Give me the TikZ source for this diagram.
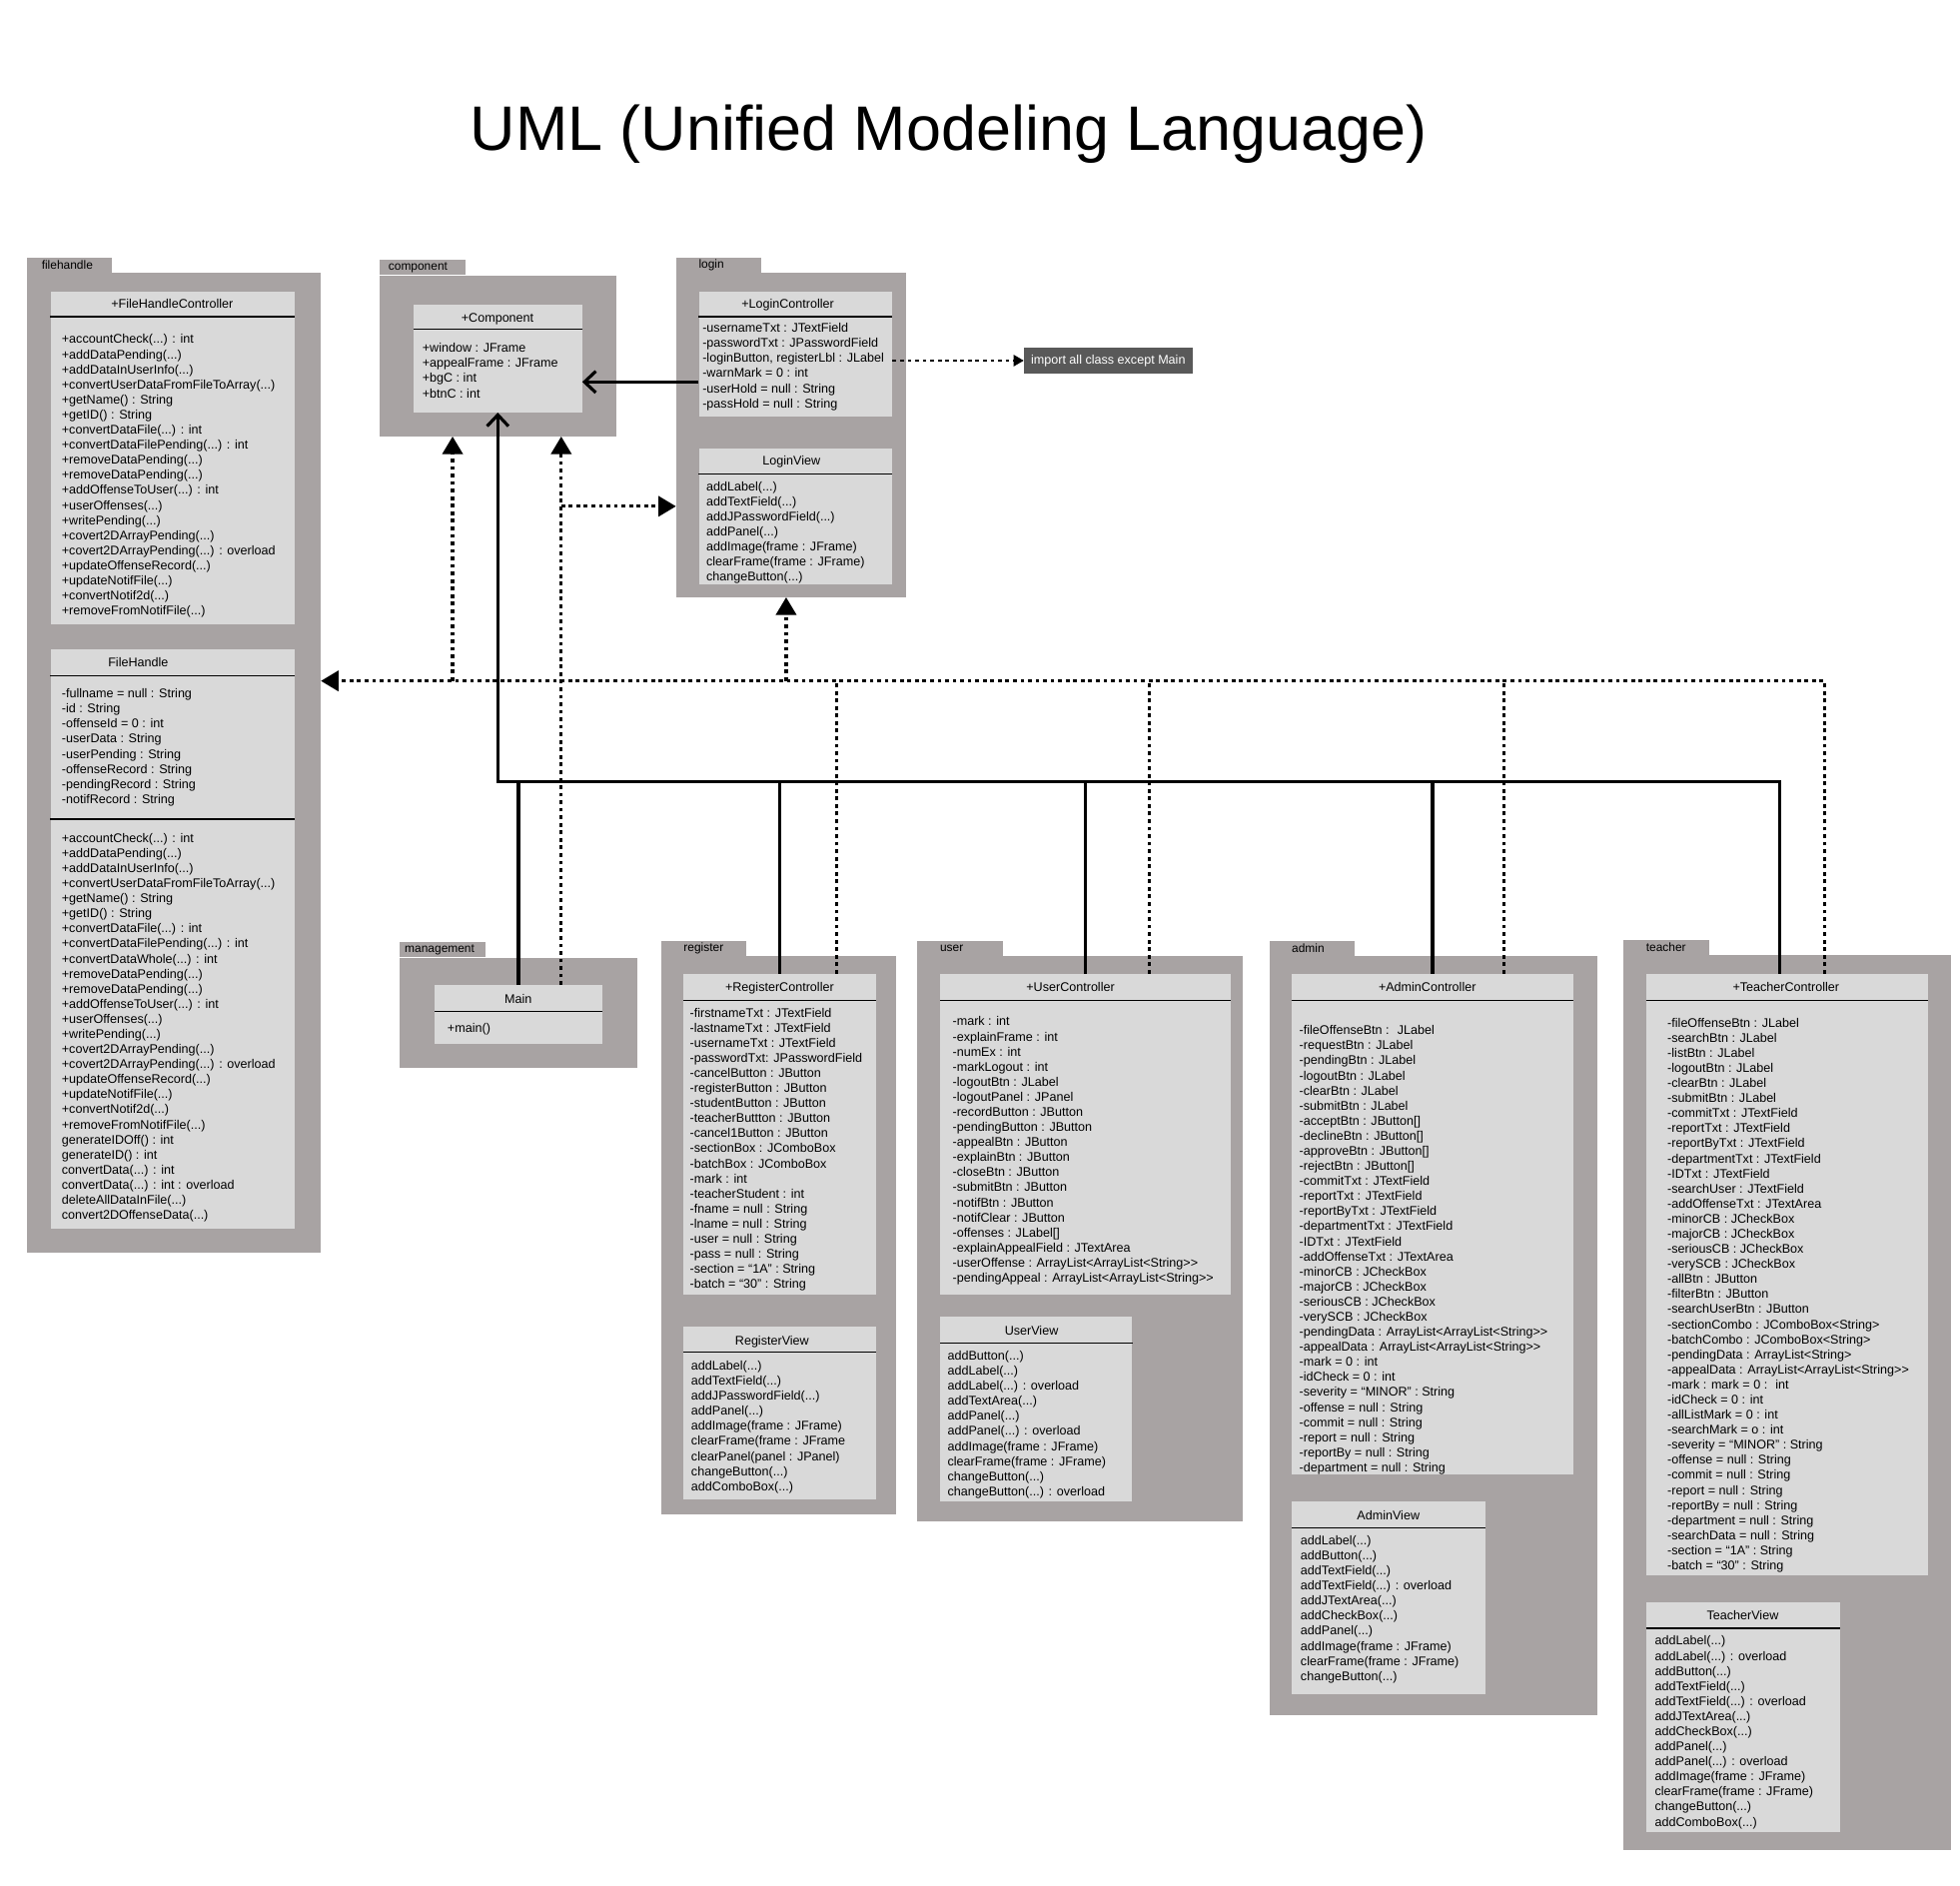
\documentclass[tikz,border=0pt]{standalone}
\usepackage{fontspec}
\setmainfont{Liberation Sans}
\usetikzlibrary{arrows.meta,positioning}
\definecolor{pkggray}{HTML}{A8A3A3}
\definecolor{clsgray}{HTML}{D9D9D9}
\definecolor{notegray}{HTML}{595959}
\newcommand{\gtgt}{>\kern0pt>}

\begin{document}
\begin{tikzpicture}[x=1pt,y=-1pt]
  \tikzstyle{pkgbody}=[fill=pkggray, inner sep=0pt, anchor=north west]
  \tikzstyle{pkgtab}=[fill=pkggray, inner sep=0pt, minimum width=68pt, minimum height=12pt, anchor=south west]
  \tikzstyle{tabtext}=[font=\fontsize{9.5}{11}\selectfont, anchor=west, inner sep=0pt]
  \tikzstyle{cls}=[fill=clsgray, inner sep=0pt, anchor=north west]
  \tikzstyle{ctitle}=[font=\fontsize{10}{12}\selectfont, anchor=base, inner sep=0pt]
  % body text is placed by the baseline of its last line
  \tikzstyle{cbody}=[font=\fontsize{10}{12}\selectfont, align=left, anchor=base west, inner sep=0pt]
  \tikzstyle{sepline}=[line width=1pt]
  \tikzstyle{bar}=[line width=2.5pt]
  \tikzstyle{inh}=[bar, -{Straight Barb[length=9pt,width=17pt]}]
  \tikzstyle{depline}=[line width=2.5pt, dash pattern=on 3pt off 3pt]
  \tikzstyle{dep}=[depline, -{Triangle[length=14pt,width=16pt]}]
  \tikzstyle{noteline}=[line width=1.2pt, dash pattern=on 3pt off 3pt, -{Triangle[length=8pt,width=9pt]}]
  \tikzstyle{notebox}=[fill=notegray, text=white, font=\fontsize{10}{12}\selectfont, minimum width=134pt, minimum height=20pt, inner sep=0pt]

  \useasboundingbox (0,0) rectangle (1560,1501);

  \node[font=\fontsize{50}{60}\selectfont, anchor=base] (title) at (755,120) {UML (Unified Modeling Language)};

  % packages
  \node[pkgbody, minimum width=234pt, minimum height=780pt] (fhPkg) at (21,217) {};
  \node[pkgtab] (fhTab) at (fhPkg.north west) {};
  \node[tabtext] at (33,211) {filehandle};
  \node[pkgbody, minimum width=188pt, minimum height=128pt] (compPkg) at (302,219) {};
  \node[pkgtab] (compTab) at (compPkg.north west) {};
  \node[tabtext] at (309,213) {component};
  \node[pkgbody, minimum width=183pt, minimum height=258pt] (loginPkg) at (538,217) {};
  \node[pkgtab] (loginTab) at (loginPkg.north west) {};
  \node[tabtext] at (556,211) {login};
  \node[pkgbody, minimum width=189pt, minimum height=88pt] (mgmtPkg) at (318,762) {};
  \node[pkgtab] (mgmtTab) at (mgmtPkg.north west) {};
  \node[tabtext] at (322,756) {management};
  \node[pkgbody, minimum width=187pt, minimum height=444pt] (regPkg) at (526,761) {};
  \node[pkgtab] (regTab) at (regPkg.north west) {};
  \node[tabtext] at (544,755) {register};
  \node[pkgbody, minimum width=259pt, minimum height=450pt] (userPkg) at (730,761) {};
  \node[pkgtab] (userTab) at (userPkg.north west) {};
  \node[tabtext] at (748,755) {user};
  \node[pkgbody, minimum width=261pt, minimum height=604pt] (adminPkg) at (1010,761) {};
  \node[pkgtab] (adminTab) at (adminPkg.north west) {};
  \node[tabtext] at (1028,755) {admin};
  \node[pkgbody, minimum width=261pt, minimum height=712pt] (teachPkg) at (1292,760) {};
  \node[pkgtab] (teachTab) at (teachPkg.north west) {};
  \node[tabtext] at (1310,754) {teacher};

  % filehandle
  \node[cls, minimum width=194pt, minimum height=265pt] (fhc) at (40,232) {};
  \node[ctitle] at (137,245.5) {+FileHandleController};
  \draw[sepline] ([yshift=-20pt]fhc.north west) -- ([yshift=-20pt]fhc.north east);
  \node[cbody] at (49,489.5) {+accountCheck(...) : int\\+addDataPending(...)\\+addDataInUserInfo(...)\\+convertUserDataFromFileToArray(...)\\+getName() : String\\+getID() : String\\+convertDataFile(...) : int\\+convertDataFilePending(...) : int\\+removeDataPending(...)\\+removeDataPending(...)\\+addOffenseToUser(...) : int\\+userOffenses(...)\\+writePending(...)\\+covert2DArrayPending(...)\\+covert2DArrayPending(...) : overload\\+updateOffenseRecord(...)\\+updateNotifFile(...)\\+convertNotif2d(...)\\+removeFromNotifFile(...)};

  \node[cls, minimum width=194pt, minimum height=461pt] (fh) at (40,517) {};
  \node[ctitle] at (110,530.5) {FileHandle};
  \draw[sepline] ([yshift=-21pt]fh.north west) -- ([yshift=-21pt]fh.north east);
  \node[cbody] at (49,639.5) {-fullname = null : String\\-id : String\\-offenseId = 0 : int\\-userData : String\\-userPending : String\\-offenseRecord : String\\-pendingRecord : String\\-notifRecord : String};
  \draw[sepline] ([yshift=-135pt]fh.north west) -- ([yshift=-135pt]fh.north east);
  \node[cbody] at (49,970.5) {+accountCheck(...) : int\\+addDataPending(...)\\+addDataInUserInfo(...)\\+convertUserDataFromFileToArray(...)\\+getName() : String\\+getID() : String\\+convertDataFile(...) : int\\+convertDataFilePending(...) : int\\+convertDataWhole(...) : int\\+removeDataPending(...)\\+removeDataPending(...)\\+addOffenseToUser(...) : int\\+userOffenses(...)\\+writePending(...)\\+covert2DArrayPending(...)\\+covert2DArrayPending(...) : overload\\+updateOffenseRecord(...)\\+updateNotifFile(...)\\+convertNotif2d(...)\\+removeFromNotifFile(...)\\generateIDOff() : int\\generateID() : int\\convertData(...) : int\\convertData(...) : int : overload\\deleteAllDataInFile(...)\\convert2DOffenseData(...)};

  % component
  \node[cls, minimum width=134pt, minimum height=86pt] (comp) at (329,242) {};
  \node[ctitle] at (396,256.5) {+Component};
  \draw[sepline] ([yshift=-20pt]comp.north west) -- ([yshift=-20pt]comp.north east);
  \node[cbody] at (336,316.5) {+window : JFrame\\+appealFrame : JFrame\\+bgC : int\\+btnC : int};

  % login
  \node[cls, minimum width=154pt, minimum height=99pt] (lc) at (556,232) {};
  \node[ctitle] at (627,245.5) {+LoginController};
  \draw[sepline] ([yshift=-20pt]lc.north west) -- ([yshift=-20pt]lc.north east);
  \node[cbody] at (559,324.5) {-usernameTxt : JTextField\\-passwordTxt : JPasswordField\\-loginButton, registerLbl : JLabel\\-warnMark = 0 : int\\-userHold = null : String\\-passHold = null : String};

  \node[cls, minimum width=154pt, minimum height=108pt] (lv) at (556,357) {};
  \node[ctitle] at (630,370.5) {LoginView};
  \draw[sepline] ([yshift=-20pt]lv.north west) -- ([yshift=-20pt]lv.north east);
  \node[cbody] at (562,462.5) {addLabel(...)\\addTextField(...)\\addJPasswordField(...)\\addPanel(...)\\addImage(frame : JFrame)\\clearFrame(frame : JFrame)\\changeButton(...)};

  \node[notebox] (note) at (882,287) {import all class except Main};

  % management
  \node[cls, minimum width=133pt, minimum height=47pt] (mainc) at (346,784) {};
  \node[ctitle] at (412.5,798.5) {Main};
  \draw[sepline] ([yshift=-21pt]mainc.north west) -- ([yshift=-21pt]mainc.north east);
  \node[cbody] at (356,821.5) {+main()};

  % register
  \node[cls, minimum width=153pt, minimum height=255pt] (rc) at (544,775) {};
  \node[ctitle] at (620.5,789.5) {+RegisterController};
  \draw[sepline] ([yshift=-21pt]rc.north west) -- ([yshift=-21pt]rc.north east);
  \node[cbody] at (549,1025.5) {-firstnameTxt : JTextField\\-lastnameTxt : JTextField\\-usernameTxt : JTextField\\-passwordTxt: JPasswordField\\-cancelButton : JButton\\-registerButton : JButton\\-studentButton : JButton\\-teacherButtton : JButton\\-cancel1Button : JButton\\-sectionBox : JComboBox\\-batchBox : JComboBox\\-mark : int\\-teacherStudent : int\\-fname = null : String\\-lname = null : String\\-user = null : String\\-pass = null : String\\-section = “1A” : String\\-batch = “30” : String};

  \node[cls, minimum width=153pt, minimum height=137pt] (rv) at (544,1056) {};
  \node[ctitle] at (614.5,1070.5) {RegisterView};
  \draw[sepline] ([yshift=-20pt]rv.north west) -- ([yshift=-20pt]rv.north east);
  \node[cbody] at (550,1186.5) {addLabel(...)\\addTextField(...)\\addJPasswordField(...)\\addPanel(...)\\addImage(frame : JFrame)\\clearFrame(frame : JFrame\\clearPanel(panel : JPanel)\\changeButton(...)\\addComboBox(...)};

  % user
  \node[cls, minimum width=231pt, minimum height=255pt] (uc) at (748,775) {};
  \node[ctitle] at (852,789.5) {+UserController};
  \draw[sepline] ([yshift=-21pt]uc.north west) -- ([yshift=-21pt]uc.north east);
  \node[cbody] at (758,1020.5) {-mark : int\\-explainFrame : int\\-numEx : int\\-markLogout : int\\-logoutBtn : JLabel\\-logoutPanel : JPanel\\-recordButton : JButton\\-pendingButton : JButton\\-appealBtn : JButton\\-explainBtn : JButton\\-closeBtn : JButton\\-submitBtn : JButton\\-notifBtn : JButton\\-notifClear : JButton\\-offenses : JLabel[]\\-explainAppealField : JTextArea\\-userOffense : ArrayList<ArrayList<String\gtgt\\-pendingAppeal : ArrayList<ArrayList<String\gtgt};

  \node[cls, minimum width=153pt, minimum height=147pt] (uv) at (748,1048) {};
  \node[ctitle] at (821,1062.5) {UserView};
  \draw[sepline] ([yshift=-21pt]uv.north west) -- ([yshift=-21pt]uv.north east);
  \node[cbody] at (754,1190.5) {addButton(...)\\addLabel(...)\\addLabel(...) : overload\\addTextArea(...)\\addPanel(...)\\addPanel(...) : overload\\addImage(frame : JFrame)\\clearFrame(frame : JFrame)\\changeButton(...)\\changeButton(...) : overload};

  % admin
  \node[cls, minimum width=224pt, minimum height=398pt] (ac) at (1028,775) {};
  \node[ctitle] at (1136,789.5) {+AdminController};
  \draw[sepline] ([yshift=-21pt]ac.north west) -- ([yshift=-21pt]ac.north east);
  \node[cbody] at (1034,1171.5) {-fileOffenseBtn : \ JLabel\\-requestBtn : JLabel\\-pendingBtn : JLabel\\-logoutBtn : JLabel\\-clearBtn : JLabel\\-submitBtn : JLabel\\-acceptBtn : JButton[]\\-declineBtn : JButton[]\\-approveBtn : JButton[]\\-rejectBtn : JButton[]\\-commitTxt : JTextField\\-reportTxt : JTextField\\-reportByTxt : JTextField\\-departmentTxt : JTextField\\-IDTxt : JTextField\\-addOffenseTxt : JTextArea\\-minorCB : JCheckBox\\-majorCB : JCheckBox\\-seriousCB : JCheckBox\\-verySCB : JCheckBox\\-pendingData : ArrayList<ArrayList<String\gtgt\\-appealData : ArrayList<ArrayList<String\gtgt\\-mark = 0 : int\\-idCheck = 0 : int\\-severity = “MINOR” : String\\-offense = null : String\\-commit = null : String\\-report = null : String\\-reportBy = null : String\\-department = null : String};

  \node[cls, minimum width=154pt, minimum height=153pt] (av) at (1028,1195) {};
  \node[ctitle] at (1105,1209.5) {AdminView};
  \draw[sepline] ([yshift=-21pt]av.north west) -- ([yshift=-21pt]av.north east);
  \node[cbody] at (1035,1337.5) {addLabel(...)\\addButton(...)\\addTextField(...)\\addTextField(...) : overload\\addJTextArea(...)\\addCheckBox(...)\\addPanel(...)\\addImage(frame : JFrame)\\clearFrame(frame : JFrame)\\changeButton(...)};

  % teacher
  \node[cls, minimum width=224pt, minimum height=479pt] (tc) at (1310,775) {};
  \node[ctitle] at (1421.5,789.5) {+TeacherController};
  \draw[sepline] ([yshift=-21pt]tc.north west) -- ([yshift=-21pt]tc.north east);
  \node[cbody] at (1327,1249.5) {-fileOffenseBtn : JLabel\\-searchBtn : JLabel\\-listBtn : JLabel\\-logoutBtn : JLabel\\-clearBtn : JLabel\\-submitBtn : JLabel\\-commitTxt : JTextField\\-reportTxt : JTextField\\-reportByTxt : JTextField\\-departmentTxt : JTextField\\-IDTxt : JTextField\\-searchUser : JTextField\\-addOffenseTxt : JTextArea\\-minorCB : JCheckBox\\-majorCB : JCheckBox\\-seriousCB : JCheckBox\\-verySCB : JCheckBox\\-allBtn : JButton\\-filterBtn : JButton\\-searchUserBtn : JButton\\-sectionCombo : JComboBox<String>\\-batchCombo : JComboBox<String>\\-pendingData : ArrayList<String>\\-appealData : ArrayList<ArrayList<String\gtgt\\-mark : mark = 0 : \ int\\-idCheck = 0 : int\\-allListMark = 0 : int\\-searchMark = o : int\\-severity = “MINOR” : String\\-offense = null : String\\-commit = null : String\\-report = null : String\\-reportBy = null : String\\-department = null : String\\-searchData = null : String\\-section = “1A” : String\\-batch = “30” : String};

  \node[cls, minimum width=154pt, minimum height=183pt] (tv) at (1310,1275) {};
  \node[ctitle] at (1387,1289.5) {TeacherView};
  \draw[sepline] ([yshift=-21pt]tv.north west) -- ([yshift=-21pt]tv.north east);
  \node[cbody] at (1317,1453.5) {addLabel(...)\\addLabel(...) : overload\\addButton(...)\\addTextField(...)\\addTextField(...) : overload\\addJTextArea(...)\\addCheckBox(...)\\addPanel(...)\\addPanel(...) : overload\\addImage(frame : JFrame)\\clearFrame(frame : JFrame)\\changeButton(...)\\addComboBox(...)};

  % connectors
  \coordinate (lbus) at (0,304);
  \coordinate (vbus) at (0,403);
  \coordinate (dbus) at (0,542);
  \coordinate (sbus) at (0,622);

  \draw[noteline] (lc.east |- note) -- (note.west);
  \draw[inh] (lc.west |- lbus) -- (comp.east |- lbus);

  \draw[dep] ([xshift=30pt]tc.north) |- (fhPkg.east |- dbus);
  \draw[depline] ([xshift=45pt]rc.north) -- ([xshift=45pt]rc.north |- dbus);
  \draw[depline] ([xshift=51pt]uc.north) -- ([xshift=51pt]uc.north |- dbus);
  \draw[depline] ([xshift=57pt]ac.north) -- ([xshift=57pt]ac.north |- dbus);
  \draw[dep] ([xshift=-36pt]compPkg.south |- dbus) -- ([xshift=-36pt]compPkg.south);
  \draw[dep] ([xshift=-4pt]loginPkg.south |- dbus) -- ([xshift=-4pt]loginPkg.south);
  \draw[dep] ([xshift=34pt]mainc.north) -- ([xshift=34pt]mainc.north |- compPkg.south);
  \draw[dep] ([xshift=34pt]mainc.north |- vbus) -- (loginPkg.west |- vbus);

  \draw[inh] ([xshift=-6pt]tc.north) |- (comp.south |- sbus) -- (comp.south);
  \foreach \c in {mainc,rc,uc,ac}
    \draw[bar] (\c.north) -- (\c.north |- sbus);
\end{tikzpicture}
\end{document}
